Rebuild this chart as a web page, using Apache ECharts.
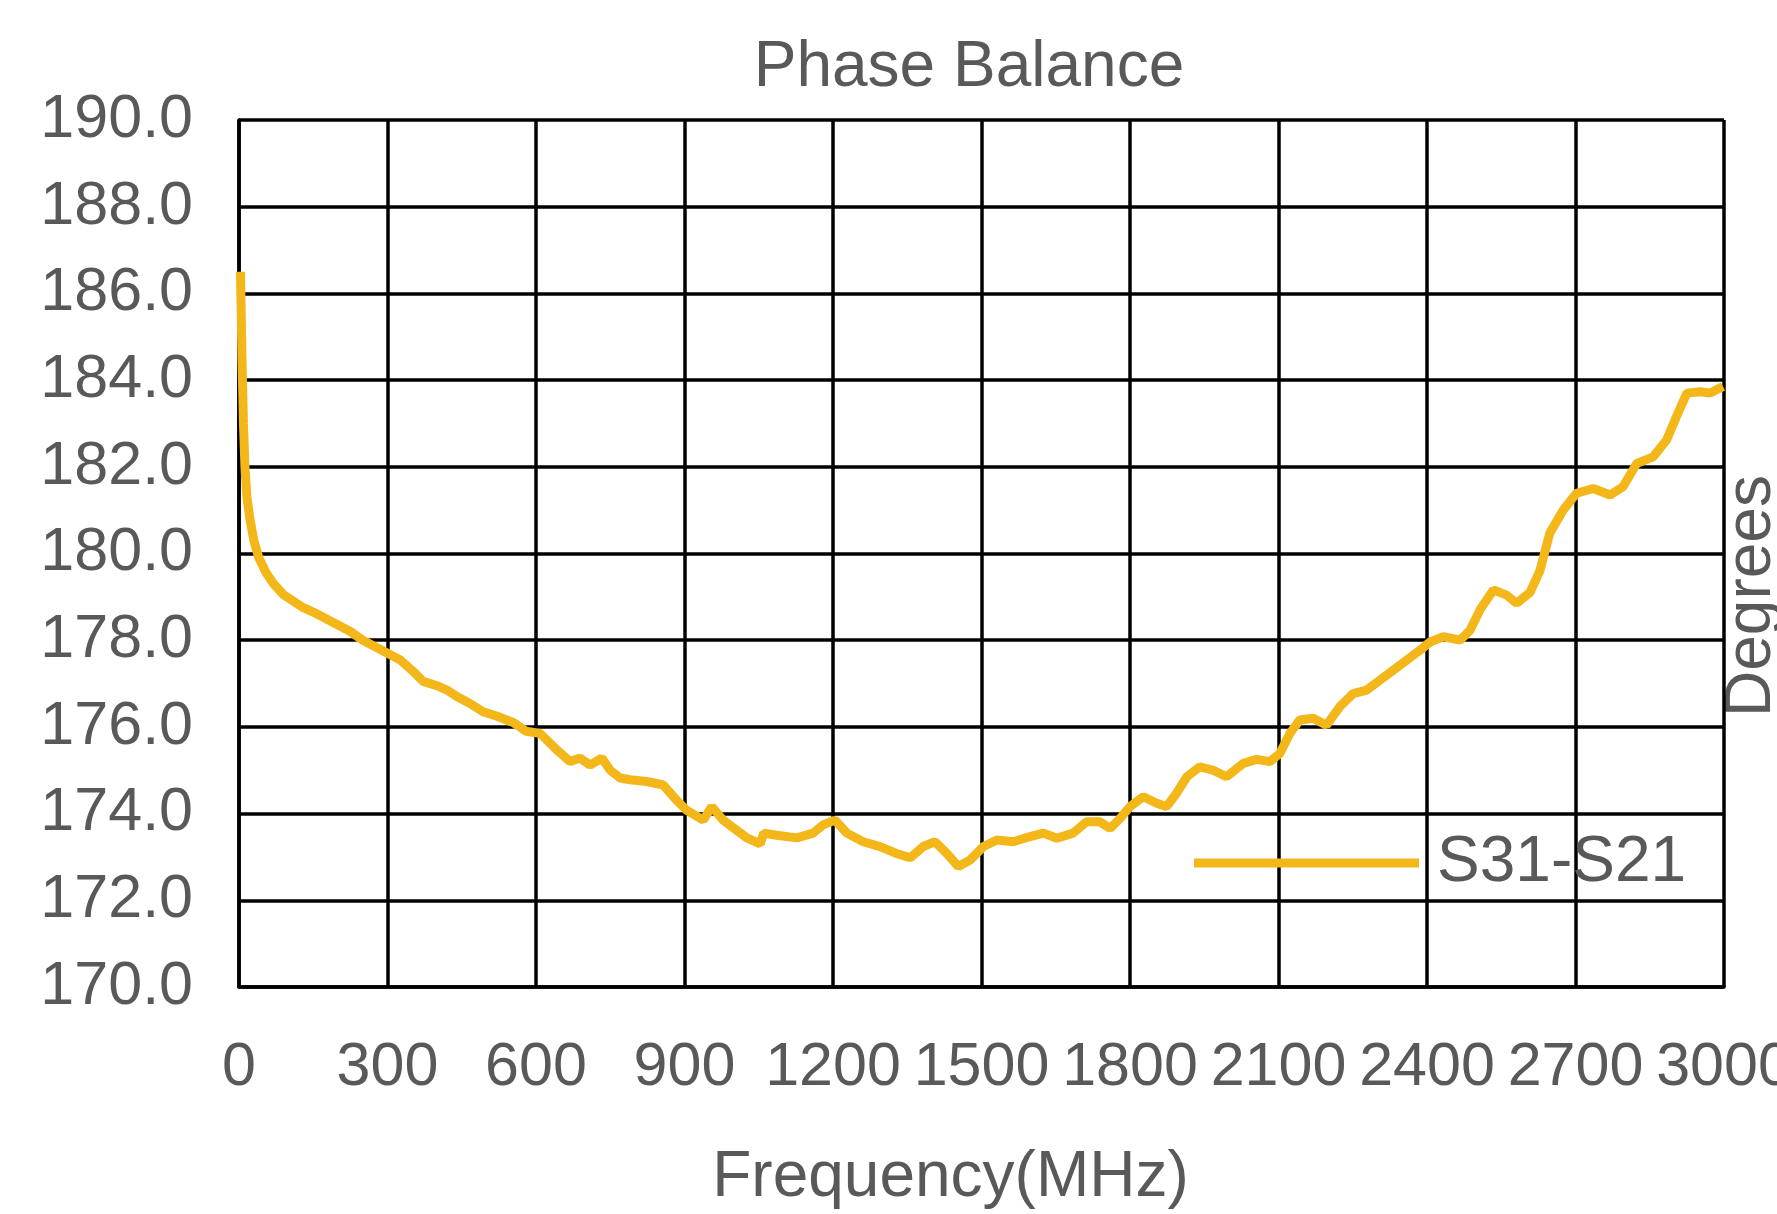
<!DOCTYPE html>
<html>
<head>
<meta charset="utf-8">
<script src="https://cdn.jsdelivr.net/npm/echarts@6/dist/echarts.min.js"></script>
<style>
html,body{margin:0;padding:0;background:#fff;}
#chart{width:1777px;height:1214px;}
</style>
</head>
<body>
<div id="chart"></div>
<script>
const chartTitle = 'Phase Balance';
const xAxisTitle = 'Frequency(MHz)';
const yAxisTitle = 'Degrees';
const seriesName = 'S31-S21';

const freqMHz = [3,6,9,12,16,22,30,40,55,70,90,110,130,150,175,200,225,250,275,300,325,350,372,400,420,440,465,493,520,554,580,608,642,669,689,709,733,750,770,790,824,857,884,904,938,955,978,1005,1026,1053,1060,1086,1127,1160,1180,1204,1228,1261,1295,1328,1356,1382,1406,1430,1453,1477,1504,1531,1564,1598,1625,1652,1685,1712,1739,1760,1780,1800,1827,1854,1874,1894,1915,1941,1968,1995,2029,2056,2083,2103,2123,2143,2170,2197,2224,2251,2278,2305,2332,2359,2386,2406,2433,2467,2487,2507,2534,2561,2581,2608,2628,2648,2675,2702,2736,2770,2796,2824,2857,2884,2904,2925,2952,2972,2998];
const phaseDeg = [186.5,184.5,183.0,182.0,181.3,180.8,180.3,179.9,179.55,179.3,179.05,178.9,178.75,178.65,178.5,178.35,178.2,178.0,177.85,177.7,177.55,177.3,177.05,176.95,176.85,176.7,176.55,176.35,176.25,176.1,175.9,175.85,175.47,175.2,175.28,175.12,175.28,175.0,174.82,174.78,174.74,174.66,174.31,174.08,173.85,174.16,173.85,173.62,173.44,173.3,173.55,173.5,173.44,173.55,173.74,173.85,173.55,173.35,173.24,173.08,172.98,173.24,173.35,173.08,172.78,172.93,173.24,173.39,173.35,173.47,173.55,173.43,173.55,173.81,173.81,173.66,173.89,174.16,174.39,174.24,174.16,174.47,174.85,175.08,175.0,174.85,175.16,175.25,175.2,175.39,175.85,176.16,176.2,176.04,176.47,176.77,176.85,177.08,177.31,177.54,177.77,177.96,178.08,178.0,178.23,178.7,179.16,179.04,178.85,179.1,179.6,180.47,181.0,181.39,181.5,181.35,181.54,182.08,182.23,182.62,183.16,183.7,183.73,183.7,183.85];

const xMin = 0, xMax = 3000, xStep = 300;
const yMin = 170, yMax = 190, yStep = 2;

const fontFamily = '"Liberation Sans", Arial, sans-serif';
const textColor = '#595959';
const lineColor = '#F4B71A';

const seriesData = freqMHz.map((f, i) => [f, phaseDeg[i]]);

const chart = echarts.init(document.getElementById('chart'), null, {renderer: 'canvas'});
chart.setOption({
  backgroundColor: '#ffffff',
  animation: false,
  title: {
    text: chartTitle,
    left: 969,
    top: 36,
    textAlign: 'center',
    padding: 0,
    textStyle: {fontFamily: fontFamily, fontSize: 64, fontWeight: 'normal', color: textColor}
  },
  grid: {left: 239, right: 53, top: 120, bottom: 227, containLabel: false, outerBoundsMode: 'none'},
  legend: {
    left: 1189,
    top: 826,
    padding: 5,
    itemWidth: 225,
    itemHeight: 9,
    data: [{name: seriesName, icon: 'rect'}],
    textStyle: {fontFamily: fontFamily, fontSize: 64, color: textColor, padding: [0, 0, 0, 13]}
  },
  xAxis: {
    type: 'value',
    min: xMin, max: xMax, interval: xStep,
    name: xAxisTitle,
    nameLocation: 'middle',
    nameGap: 159,
    nameTextStyle: {fontFamily: fontFamily, fontSize: 64, color: textColor, padding: [0, 62, 0, 0]},
    axisLine: {show: true, lineStyle: {color: '#000', width: 3.5}},
    axisTick: {show: false},
    axisLabel: {fontFamily: fontFamily, fontSize: 61, color: textColor, margin: 51,
      showMinLabel: true, showMaxLabel: true, hideOverlap: false,
      formatter: v => String(v)},
    splitLine: {show: true, lineStyle: {color: '#000', width: 3.5}}
  },
  yAxis: {
    type: 'value',
    min: yMin, max: yMax, interval: yStep,
    axisLine: {show: true, lineStyle: {color: '#000', width: 3.5}},
    axisTick: {show: false},
    axisLabel: {fontFamily: fontFamily, fontSize: 61, color: textColor, margin: 46,
      formatter: v => v.toFixed(1)},
    splitLine: {show: true, lineStyle: {color: '#000', width: 3.5}}
  },
  graphic: [{
    type: 'text',
    x: 1752, y: 596,
    rotation: Math.PI / 2,
    style: {text: yAxisTitle, font: '64px ' + fontFamily, fill: textColor, align: 'center', verticalAlign: 'middle'}
  }],
  series: [{
    name: seriesName,
    type: 'line',
    data: seriesData,
    showSymbol: false,
    symbol: 'none',
    color: lineColor,
    lineStyle: {color: lineColor, width: 9},
    itemStyle: {color: lineColor},
    z: 5
  }]
});
</script>
</body>
</html>
